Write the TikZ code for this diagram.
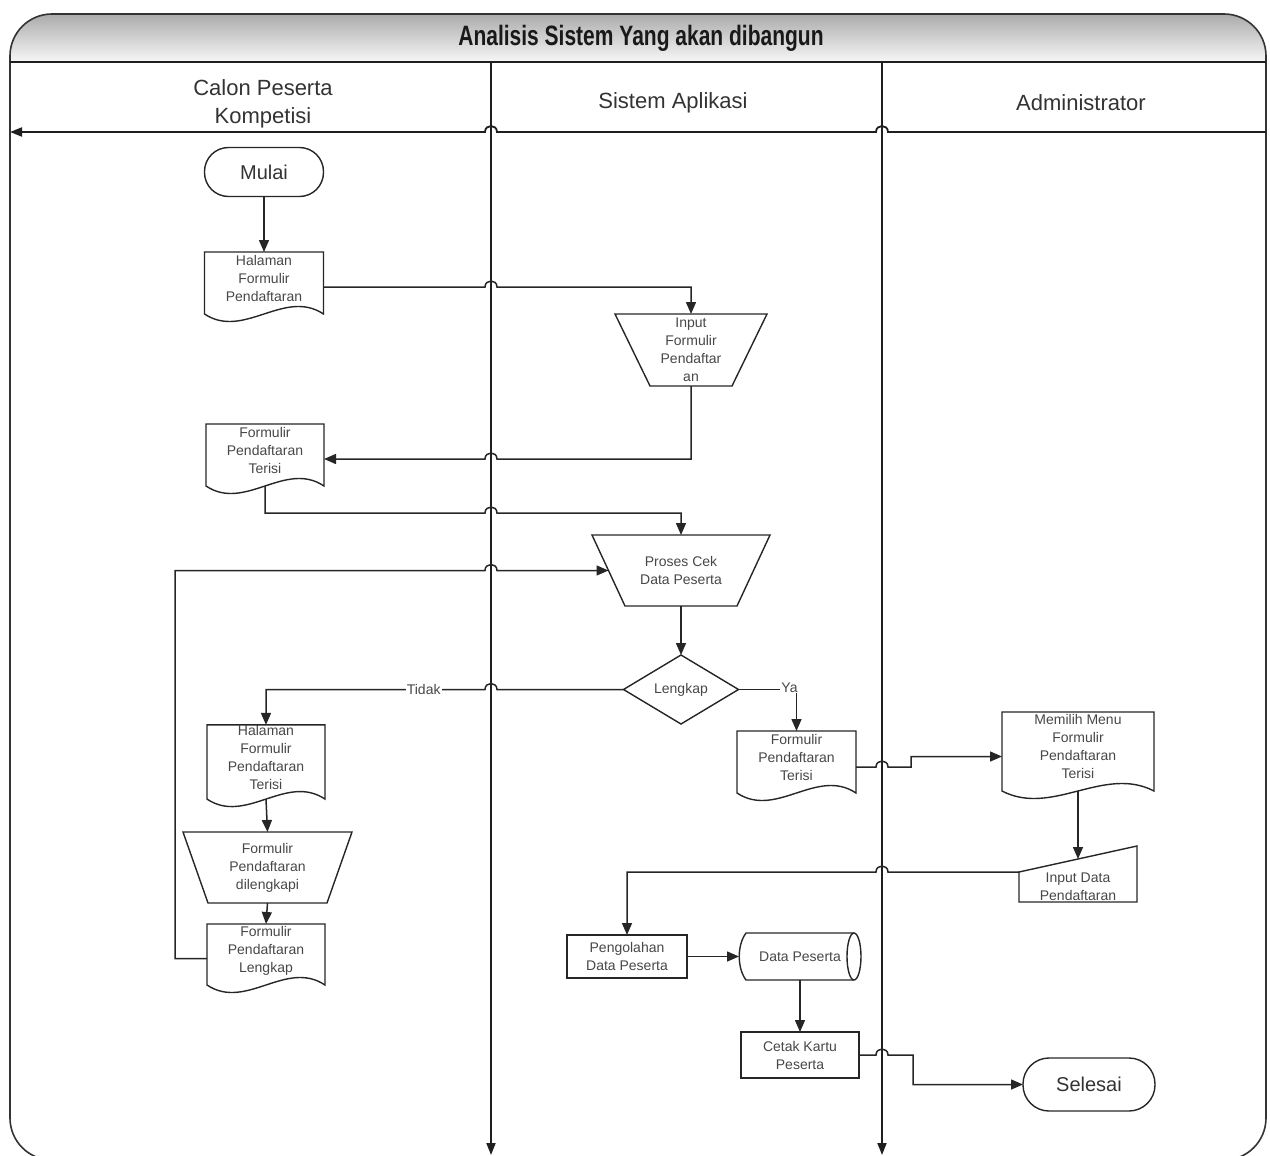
\documentclass[tikz,border=0pt]{standalone}
\usepackage{fontspec}
\setmainfont{Liberation Sans}
\usepackage{graphicx}
\usetikzlibrary{arrows.meta,calc}

% outline of a document symbol around a node (wavy bottom edge)
\newcommand\docoutline[2]{%
  \draw[shapeline] (#1.north west) -- (#1.north east) -- (#1.south east)
    .. controls ($(#1.south east)+({-0.33*#2},-26)$) and ($(#1.south west)+({0.33*#2},26)$) ..
    (#1.south west) -- cycle;}
% outline of a manual operation (trapezoid, narrow side down)
\newcommand\manoutline[2]{%
  \draw[shapeline] (#1.north west) -- (#1.north east) -- ($(#1.south east)+(-#2,0)$)
    -- ($(#1.south west)+(#2,0)$) -- cycle;}

\begin{document}
\begin{tikzpicture}[x=1pt,y=-1pt,
  lane/.style={line width=1.8pt, draw=black!88},
  laneend/.style={-{Triangle[length=12pt,width=9pt]}},
  flow/.style={line width=1.5pt, draw=black!85, -{Triangle[length=12pt,width=10pt]}},
  shapeline/.style={line width=1.4pt, draw=black!85},
  txt/.style={draw=none, inner sep=0pt, outer sep=0pt, align=center, text=black!72,
    font=\fontsize{14}{18}\selectfont},
  docu/.style={txt, text depth=10pt},
  boxed/.style={txt, draw=black!85, line width=1.2pt},
  term/.style={txt, draw=black!85, line width=1.4pt, text=black!80,
    font=\fontsize{20}{24}\selectfont},
  lbl/.style={fill=white, inner sep=1pt, text=black!72, font=\fontsize{14}{18}\selectfont},
  hdr/.style={align=center, text=black!80, font=\fontsize{22}{28}\selectfont},
  hopr/.style 2 args={insert path={-- ({#1-6},{#2}) .. controls ({#1-6},{#2-8}) and ({#1+6},{#2-8}) .. ({#1+6},{#2})}},
  hopl/.style 2 args={insert path={-- ({#1+6},{#2}) .. controls ({#1+6},{#2-8}) and ({#1-6},{#2-8}) .. ({#1-6},{#2})}}]

\useasboundingbox (0,0) rectangle (1270,1156);
\clip (0,0) rectangle (1270,1156);

% ---- pool frame and title band ----
\shade[top color=black!33, bottom color=black!3]
  (10,62) [rounded corners=42] -- (10,14) -- (1266,14) [sharp corners] -- (1266,62) -- cycle;
\draw[line width=1.6pt, draw=black!80, rounded corners=42]
  (10,1160) -- (10,14) -- (1266,14) -- (1266,1160) -- cycle;
\draw[lane] (10,62) -- (1266,62);
\node[text=black!90] (title) at (641,38)
  {\scalebox{0.75}[1]{\fontsize{28}{30}\selectfont\bfseries Analisis Sistem Yang akan dibangun}};

% ---- lanes ----
\node[hdr] (lane1) at (263,104) {Calon Peserta\\Kompetisi};
\node[hdr] (lane2) at (673,103) {Sistem Aplikasi};
\node[hdr] (lane3) at (1081,103) {Administrator};
\draw[lane, laneend] (491,62) -- (491,1155);
\draw[lane, laneend] (882,62) -- (882,1155);
\draw[lane, laneend] (1266,132) [hopl={882}{132}] [hopl={491}{132}] -- (10,132);

% ---- nodes ----
\node[term, minimum width=119, minimum height=49, rounded corners=24] (mulai) at (264,172) {Mulai};

\node[docu, minimum width=119, minimum height=62] (hal) at (264,283) {Halaman\\Formulir\\Pendaftaran};
\docoutline{hal}{119}

\node[txt, minimum width=152, minimum height=72] (inp) at (691,350) {Input\\Formulir\\Pendaftar\\an};
\manoutline{inp}{35}

\node[docu, minimum width=118, minimum height=62] (fterL) at (265,455) {Formulir\\Pendaftaran\\Terisi};
\docoutline{fterL}{118}

\node[txt, minimum width=178, minimum height=71] (proc) at (681,570.5) {Proses Cek\\Data Peserta};
\manoutline{proc}{33}

\node[txt, minimum width=115, minimum height=69] (lk) at (681,689.5) {Lengkap};
\draw[shapeline] (lk.north) -- (lk.east) -- (lk.south) -- (lk.west) -- cycle;

\node[docu, minimum width=118, minimum height=62] (hter) at (266,762) {Halaman\\Formulir\\Pendaftaran\\Terisi};
\docoutline{hter}{118}

\node[txt, minimum width=169, minimum height=71] (fdil) at (267.5,867.5) {Formulir\\Pendaftaran\\dilengkapi};
\manoutline{fdil}{25}

\node[docu, minimum width=118, minimum height=61] (flen) at (266,954.5) {Formulir\\Pendaftaran\\Lengkap};
\docoutline{flen}{118}

\node[docu, minimum width=119, minimum height=62] (fterM) at (796.5,762) {Formulir\\Pendaftaran\\Terisi};
\docoutline{fterM}{119}

\node[docu, minimum width=152, minimum height=79] (memi) at (1078,751.5) {Memilih Menu\\Formulir\\Pendaftaran\\Terisi};
\docoutline{memi}{152}

\node[txt, minimum width=118, minimum height=30] (inpd) at (1078,887) {Input Data\\Pendaftaran};
\draw[shapeline] (inpd.north west) -- ($(inpd.north east)+(0,-26)$) -- (inpd.south east) -- (inpd.south west) -- cycle;

\node[boxed, minimum width=120, minimum height=43] (peng) at (627,956.5) {Pengolahan\\Data Peserta};

\node[txt, minimum width=122, minimum height=47] (data) at (800,956.5) {Data Peserta};
\draw[shapeline] ($(data.north east)+(-7,0)$) -- ($(data.north west)+(7,0)$)
  .. controls ($(data.north west)+(-2,12)$) and ($(data.south west)+(-2,-12)$) ..
  ($(data.south west)+(7,0)$) -- ($(data.south east)+(-7,0)$);
\draw[shapeline] ($(data.east)+(-7,0)$) ellipse [x radius=7, y radius=23.5];

\node[boxed, minimum width=118, minimum height=46] (cetak) at (800,1055) {Cetak Kartu\\Peserta};

\node[term, minimum width=132, minimum height=53, rounded corners=26] (sel) at (1089,1084.5) {Selesai};

% ---- connectors ----
\draw[flow] (mulai.south) -- (hal.north);
\draw[flow] ($(hal.east)+(0,4)$) [hopr={491}{287}] -| (inp.north);
\draw[flow] (inp.south) -- (691,459) [hopl={491}{459}] -- ($(fterL.east)+(0,4)$);
\draw[flow] (fterL.south) -- (265,513) [hopr={491}{513}] -| (proc.north);
\draw[flow] ($(flen.west)+(0,4)$) -- (175,958.5) -- (175,570.5) [hopr={491}{570.5}] -- ($(proc.west)+(16.5,0)$);
\draw[flow] (proc.south) -- (lk.north);
\draw[flow] (lk.west) [hopl={491}{689.5}] -- (266,689.5) node[lbl, pos=0.28] {Tidak} -- (hter.north);
\draw[flow] (lk.east) -| node[lbl, pos=0.5, xshift=-7, yshift=2] {Ya} (fterM.north);
\draw[flow] (hter.south) -- (fdil.north);
\draw[flow] (fdil.south) -- (flen.north);
\draw[flow] ($(fterM.east)+(0,5)$) [hopr={882}{767}] -- (911,767) |- ($(memi.west)+(0,5)$);
\draw[flow] (memi.south) -- ($(inpd.north)+(0,-13)$);
\draw[flow] (inpd.north west) [hopl={882}{872}] -| (peng.north);
\draw[flow] (peng.east) -- (data.west);
\draw[flow] (data.south) -- (cetak.north);
\draw[flow] (cetak.east) [hopr={882}{1055}] -- (913,1055) |- (sel.west);
\end{tikzpicture}
\end{document}
